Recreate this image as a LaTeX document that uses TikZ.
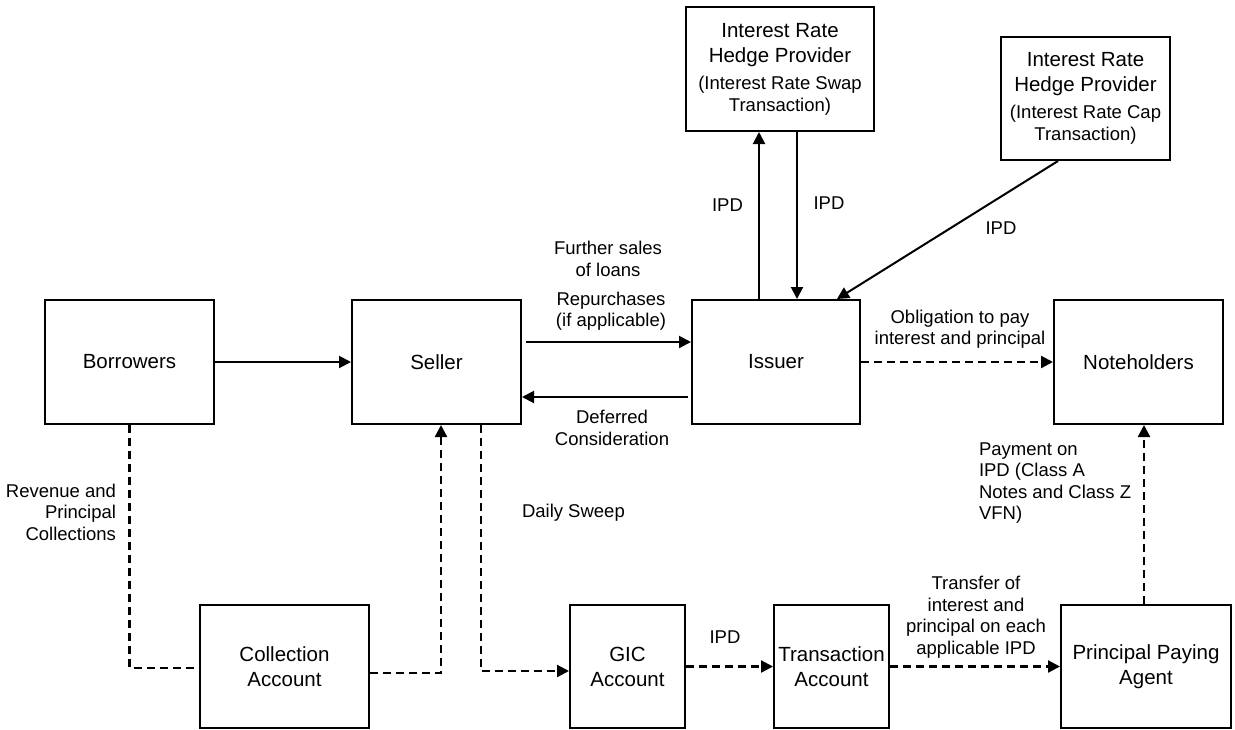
\documentclass[tikz,border=0pt]{standalone}
\usepackage{fontspec}
\setmainfont{Liberation Sans}
\usetikzlibrary{arrows.meta}
\newcommand{\subfont}{\fontsize{18.5}{22}\selectfont}

\begin{document}
\begin{tikzpicture}[
  x=1pt, y=-1pt,
  line width=2pt,
  box/.style={draw, rectangle, align=center, inner sep=2pt,
    minimum width=169pt, minimum height=124pt,
    font=\fontsize{20.5}{25}\selectfont},
  narrowbox/.style={box, minimum width=115pt},
  lbl/.style={align=center, inner sep=0pt, font=\fontsize{18.5}{21.5}\selectfont},
  flow/.style={-{Triangle[length=12pt,width=12pt]}},
  dflow/.style={line width=2.2pt, dash pattern=on 8pt off 5pt}
]
  \useasboundingbox (0,0) rectangle (1235,729);

  \node[box] (bor) at (129.5,362) {Borrowers};
  \node[box] (sel) at (436.5,362) {Seller};
  \node[box, minimum width=168pt] (iss) at (776,362) {Issuer};
  \node[box] (note) at (1138.5,362) {Noteholders};
  \node[box, minimum width=188pt] (swap) at (780,69)
    {Interest Rate\\Hedge Provider\\[2pt]{\subfont (Interest Rate Swap}\\[-3pt]{\subfont Transaction)}};
  \node[box, minimum height=123pt] (cap) at (1085.5,98.5)
    {Interest Rate\\Hedge Provider\\[2pt]{\subfont (Interest Rate Cap}\\[-3pt]{\subfont Transaction)}};
  \node[box, minimum height=123pt] (coll) at (284.5,666.5) {Collection\\Account};
  \node[narrowbox, minimum height=123pt] (gic) at (627.5,666.5) {GIC\\Account};
  \node[narrowbox, minimum height=123pt] (trans) at (831.5,666.5) {Transaction\\Account};
  \node[box, minimum width=170pt, minimum height=123pt] (ppa) at (1146,666.5) {Principal Paying\\Agent};

  \draw[flow] (bor) -- (sel);
  \draw[flow] ([xshift=4pt,yshift=20pt]sel.east) -- ([yshift=20pt]iss.west);
  \draw[flow] ([xshift=-3pt,yshift=-35pt]iss.west) -- ([yshift=-35pt]sel.east);
  \draw[flow] ([xshift=-17pt]iss.north) -- ([xshift=-17pt]iss.north |- swap.south);
  \draw[flow] ([xshift=17pt]swap.south) -- ([xshift=17pt]swap.south |- iss.north);
  \draw[flow] ([xshift=-27.5pt]cap.south) -- ([xshift=61pt]iss.north);
  \draw[flow, dflow] (iss) -- (note);
  \draw[dflow] (bor.south) |- ([yshift=-1.5pt]coll.west);
  \draw[flow, dflow] ([yshift=-6.5pt]coll.east) -| ([xshift=4.5pt]sel.south);
  \draw[flow, dflow] ([xshift=44.5pt]sel.south) |- ([yshift=-4.5pt]gic.west);
  \draw[flow, dflow] (gic) -- (trans);
  \draw[flow, dflow] (trans) -- (ppa);
  \draw[flow, dflow] ([xshift=-2pt]ppa.north) -- ([xshift=-2pt]ppa.north |- note.south);

  \node[lbl, anchor=east, align=right] (revlbl) at (117,512) {Revenue and\\Principal\\Collections};
  \node[lbl] (furtherlbl) at (608,259) {Further sales\\of loans};
  \node[lbl] (repurlbl) at (611,311) {Repurchases\\(if applicable)};
  \node[lbl] (deferlbl) at (612,428) {Deferred\\Consideration};
  \node[lbl] (ipdup) at (727.5,205) {IPD};
  \node[lbl] (ipddown) at (829,203) {IPD};
  \node[lbl] (ipdcap) at (1001,228) {IPD};
  \node[lbl] (obliglbl) at (960,329) {Obligation to pay\\interest and principal};
  \node[lbl, anchor=west] (sweeplbl) at (521,513) {Daily Sweep};
  \node[lbl] (ipdgic) at (725,637) {IPD};
  \node[lbl] (transferlbl) at (976,617) {Transfer of\\interest and\\principal on each\\applicable IPD};
  \node[lbl, anchor=west, align=left] (paylbl) at (978,483) {Payment on\\IPD (Class A\\Notes and Class Z\\VFN)};
\end{tikzpicture}
\end{document}
